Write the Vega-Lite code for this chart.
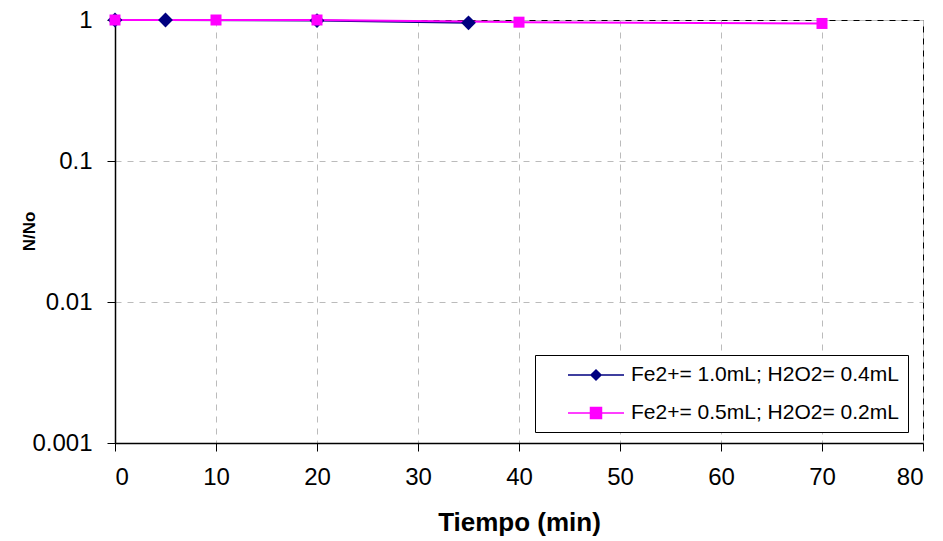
{
  "$schema": "https://vega.github.io/schema/vega-lite/v6.json",
  "width": 808,
  "height": 423,
  "autosize": "none",
  "padding": {"left": 115, "top": 20, "right": 20, "bottom": 98},
  "background": "white",
  "config": {
    "font": "Liberation Sans",
    "view": {"stroke": "#000000", "strokeWidth": 1}
  },
  "data": {
    "values": [
      {"serie": "Fe2+= 1.0mL; H2O2= 0.4mL", "t": 0, "n": 1.0},
      {"serie": "Fe2+= 1.0mL; H2O2= 0.4mL", "t": 5, "n": 1.0},
      {"serie": "Fe2+= 1.0mL; H2O2= 0.4mL", "t": 20, "n": 0.99},
      {"serie": "Fe2+= 1.0mL; H2O2= 0.4mL", "t": 35, "n": 0.955},
      {"serie": "Fe2+= 0.5mL; H2O2= 0.2mL", "t": 0, "n": 1.0},
      {"serie": "Fe2+= 0.5mL; H2O2= 0.2mL", "t": 10, "n": 1.0},
      {"serie": "Fe2+= 0.5mL; H2O2= 0.2mL", "t": 20, "n": 1.0},
      {"serie": "Fe2+= 0.5mL; H2O2= 0.2mL", "t": 40, "n": 0.965},
      {"serie": "Fe2+= 0.5mL; H2O2= 0.2mL", "t": 70, "n": 0.945}
    ]
  },
  "encoding": {
    "x": {
      "field": "t", "type": "quantitative",
      "scale": {"domain": [0, 80], "nice": false},
      "axis": {
        "title": "Tiempo (min)", "titleFontSize": 26, "titleFontWeight": "bold", "titleColor": "#000",
        "titlePadding": 20,
        "values": [0, 10, 20, 30, 40, 50, 60, 70, 80],
        "labelFontSize": 24, "labelColor": "#000", "labelPadding": 14,
        "domainColor": "#000", "domainWidth": 1.5, "tickColor": "#000", "tickSize": 8,
        "grid": true, "gridColor": "#bbbbbb", "gridDash": [6, 6], "gridWidth": 1
      }
    },
    "y": {
      "field": "n", "type": "quantitative",
      "scale": {"type": "log", "domain": [0.001, 1], "nice": false},
      "axis": {
        "title": "N/No", "titleFontSize": 17, "titleFontWeight": "bold", "titleColor": "#000",
        "titleX": -86, "titleY": 211, "titleAngle": -90, "titleAlign": "center", "titleBaseline": "middle",
        "values": [0.001, 0.01, 0.1, 1], "format": "~g",
        "labelFontSize": 24, "labelColor": "#000", "labelPadding": 15,
        "domainColor": "#000", "domainWidth": 1.5, "tickColor": "#000", "tickSize": 8,
        "grid": true, "gridColor": "#bbbbbb", "gridDash": [6, 6], "gridWidth": 1
      }
    },
    "color": {
      "field": "serie", "type": "nominal",
      "scale": {
        "domain": ["Fe2+= 1.0mL; H2O2= 0.4mL", "Fe2+= 0.5mL; H2O2= 0.2mL"],
        "range": ["#000080", "#FF00FF"]
      },
      "legend": {
        "title": null,
        "orient": "none",
        "legendX": 420,
        "legendY": 335,
        "direction": "vertical",
        "fillColor": "#ffffff",
        "strokeColor": "#000000",
        "padding": 9,
        "rowPadding": 17,
        "labelFontSize": 21,
        "labelColor": "#000",
        "labelOffset": 24,
        "symbolSize": 400,
        "symbolOffset": 41,
        "labelLimit": 400,
        "encode": {
          "symbols": {
            "update": {
              "shape": {"signal": "datum.value === 'Fe2+= 1.0mL; H2O2= 0.4mL' ? 'M-2.8,0H-0.5M0.5,0H2.8M0,-0.5L0.5,0L0,0.5L-0.5,0Z' : 'M-2.8,0H-0.55M0.55,0H2.8M-0.55,-0.55H0.55V0.55H-0.55Z'"},
              "stroke": {"scale": "color", "field": "value"},
              "fill": {"scale": "color", "field": "value"},
              "strokeWidth": {"value": 1.5},
              "opacity": {"value": 1}
            }
          }
        }
      }
    }
  },
  "layer": [
    {"mark": {"type": "line", "strokeWidth": 2, "interpolate": "linear"}},
    {
      "transform": [{"filter": "datum.serie === 'Fe2+= 1.0mL; H2O2= 0.4mL'"}],
      "mark": {"type": "point", "filled": true, "opacity": 1, "size": 220, "shape": "diamond"}
    },
    {
      "transform": [{"filter": "datum.serie === 'Fe2+= 0.5mL; H2O2= 0.2mL'"}],
      "mark": {"type": "point", "filled": true, "opacity": 1, "size": 121, "shape": "square"}
    }
  ]
}
